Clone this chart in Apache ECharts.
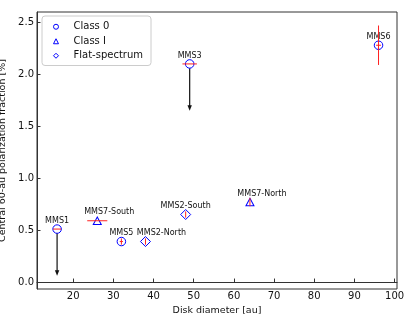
<!DOCTYPE html>
<html>
<head>
<meta charset="utf-8">
<script src="https://cdn.jsdelivr.net/npm/echarts@6/dist/echarts.min.js"></script>
<style>html,body{margin:0;padding:0;background:#fff}#c{width:414px;height:318px}</style>
</head>
<body>
<div id="c"></div>
<script>
// ---- data ----
const names     = ['MMS1','MMS2-North','MMS2-South','MMS3','MMS5','MMS6','MMS7-North','MMS7-South'];
const diameter  = [16, 38, 48, 49, 32, 96, 64, 26];
const polFrac   = [0.51, 0.39, 0.65, 2.10, 0.39, 2.28, 0.77, 0.59];
const classes   = ['Class 0','Flat-spectrum','Flat-spectrum','Class 0','Class 0','Class 0','Class I','Class I'];
const xErr      = [1.0, 0, 0, 1.8, 0.4, 0.6, 0, 2.5];
const yErr      = [0, 0.03, 0.03, 0, 0.03, 0.19, 0.04, 0];
const upperLim  = [true, false, false, true, false, false, false, false];
const limitLen  = 0.45;
const xTicks    = [20, 30, 40, 50, 60, 70, 80, 90, 100];
const yTicks    = [0.0, 0.5, 1.0, 1.5, 2.0, 2.5];
const legendNames = ['Class 0', 'Class I', 'Flat-spectrum'];

// ---- styles (not data) ----
const DIAMOND = 'path://M0,-1L1,0L0,1L-1,0Z';
const symbolOf = {'Class 0':'circle','Class I':'triangle','Flat-spectrum':DIAMOND};
const sizeOf = {'Class 0':8.5,'Class I':[8,7.5],'Flat-spectrum':10};
const labelDx = {'MMS7-South':12,'MMS2-North':16,'MMS7-North':12};
const FONT = 'DejaVu Sans';
const BLUE = '#0000ff';

const chart = echarts.init(document.getElementById('c'), null, {renderer:'canvas'});

const scatterSeries = legendNames.map(cn => ({
  name: cn,
  type: 'scatter',
  symbol: symbolOf[cn],
  symbolSize: sizeOf[cn],
  symbolKeepAspect: true,
  itemStyle: {color: '#ffffff', borderColor: BLUE, borderWidth: 1, opacity: 1},
  emphasis: {disabled: true},
  z: 3,
  label: {
    show: true,
    position: 'inside',
    formatter: p => p.data.name,
    fontFamily: FONT, fontSize: 8, color: '#111',
    textBorderWidth: 0
  },
  data: names.map((n, i) => ({n, i})).filter(o => classes[o.i] === cn).map(o => ({
    name: o.n,
    value: [diameter[o.i], polFrac[o.i]],
    label: {offset: [labelDx[o.n] || 0, -8.5]}
  }))
}));

const errData = names.map((n, i) => [diameter[i], polFrac[i], xErr[i], yErr[i]]);
const errSeries = {
  type: 'custom',
  z: 4,
  silent: true,
  data: errData,
  renderItem: (params, api) => {
    const x = api.value(0), y = api.value(1), xe = api.value(2), ye = api.value(3);
    const children = [];
    const style = {stroke: '#ff2020', lineWidth: 1};
    if (xe > 0) {
      const a = api.coord([x - xe, y]), b = api.coord([x + xe, y]);
      children.push({type: 'line', shape: {x1: a[0], y1: a[1], x2: b[0], y2: b[1]}, style});
    }
    if (ye > 0) {
      const a = api.coord([x, y - ye]), b = api.coord([x, y + ye]);
      children.push({type: 'line', shape: {x1: a[0], y1: a[1], x2: b[0], y2: b[1]}, style});
    }
    return {type: 'group', children};
  }
};

const limData = names.map((n, i) => [diameter[i], polFrac[i]]).filter((d, i) => upperLim[i]);
const limSeries = {
  type: 'custom',
  z: 2,
  silent: true,
  data: limData,
  renderItem: (params, api) => {
    const x = api.value(0), y = api.value(1);
    const a = api.coord([x, y]), b = api.coord([x, y - limitLen]);
    const hl = 5.5, hw = 2.2;
    return {type: 'group', children: [
      {type: 'line', shape: {x1: a[0], y1: a[1], x2: b[0], y2: b[1] - hl + 1}, style: {stroke: '#111', lineWidth: 1.2}},
      {type: 'polygon', shape: {points: [[b[0], b[1]], [b[0] - hw, b[1] - hl], [b[0] + hw, b[1] - hl]]}, style: {fill: '#111'}}
    ]};
  }
};

const axisCommon = {
  axisLine: {show: true, lineStyle: {color: '#333', width: 1}},
  axisTick: {show: true, inside: true, length: 3.5, lineStyle: {color: '#333'}},
  splitLine: {show: false},
  nameTextStyle: {fontFamily: FONT, fontSize: 9.5, color: '#111'}
};

chart.setOption({
  animation: false,
  backgroundColor: '#fff',
  grid: {left: 37, right: 17, top: 12, bottom: 29, containLabel: false, outerBoundsMode: 'none',
         show: true, borderColor: '#333', borderWidth: 1, backgroundColor: 'transparent'},
  legend: {
    orient: 'vertical', left: 42, top: 16,
    data: legendNames.map(n => ({name: n, icon: symbolOf[n]})),
    itemWidth: 5, itemHeight: 5, itemGap: 3,
    padding: [5, 8, 4, 11],
    borderColor: '#ccc', borderWidth: 1, borderRadius: 3,
    backgroundColor: '#fff',
    itemStyle: {color: '#ffffff', borderColor: BLUE, borderWidth: 1},
    textStyle: {fontFamily: FONT, fontSize: 10, color: '#111', padding: [0, 0, 0, 10], lineHeight: 11.5}
  },
  xAxis: Object.assign({}, axisCommon, {
    type: 'value', min: 11, max: 100.6,
    name: 'Disk diameter [au]', nameLocation: 'middle', nameGap: 12,
    axisTick: Object.assign({}, axisCommon.axisTick, {customValues: xTicks}),
    axisLabel: {customValues: xTicks, fontFamily: FONT, fontSize: 10, color: '#111', margin: 2}
  }),
  yAxis: Object.assign({}, axisCommon, {
    type: 'value', min: -0.067, max: 2.6,
    name: 'Central 60-au polarization fraction [%]', nameLocation: 'middle', nameGap: 21,
    axisTick: Object.assign({}, axisCommon.axisTick, {customValues: yTicks}),
    axisLabel: {customValues: yTicks, formatter: v => v.toFixed(1), fontFamily: FONT, fontSize: 10, color: '#111', margin: 3}
  }),
  series: [limSeries, ...scatterSeries, errSeries]
});
</script>
</body>
</html>
